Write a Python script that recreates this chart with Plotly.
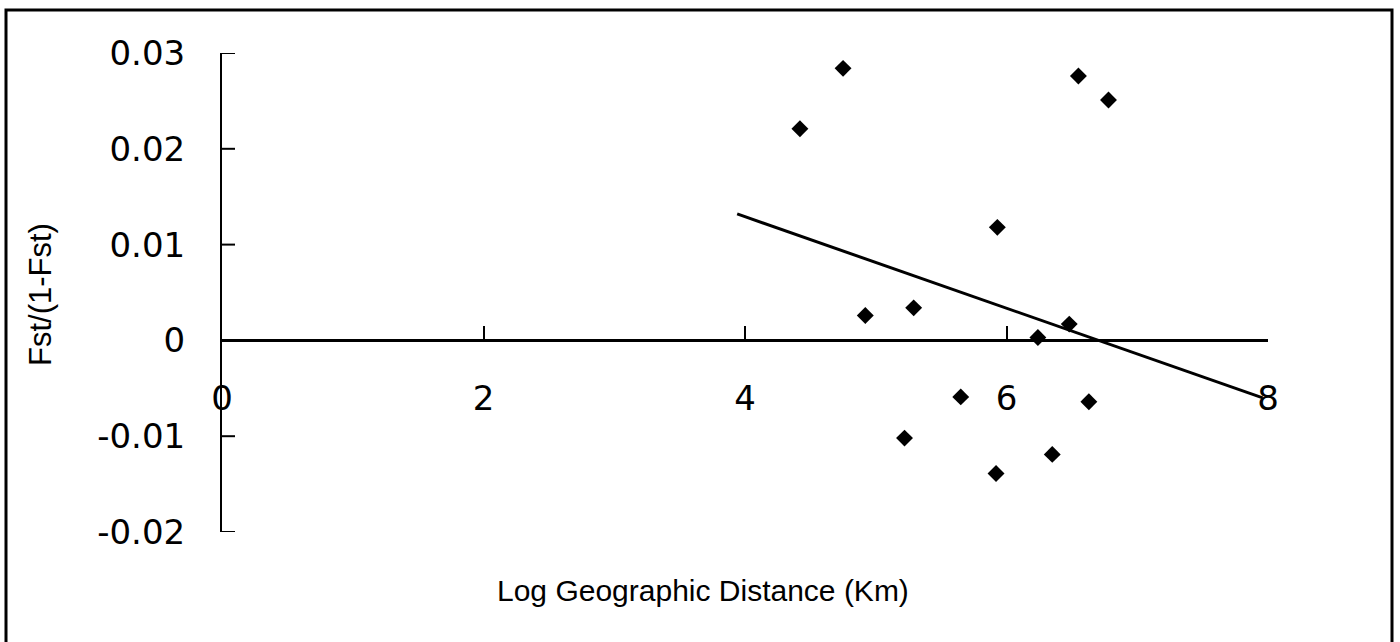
import plotly.graph_objects as go

# Data
log_distance = [4.42, 4.75, 4.92, 5.29, 5.22, 5.65, 5.93, 5.92, 6.24, 6.35,
                6.48, 6.55, 6.63, 6.78, 6.69]
fst_ratio = [0.0221, 0.0284, 0.0026, 0.0034, -0.0102, -0.0059, 0.0118, -0.0139,
             0.0003, -0.0119, 0.0017, 0.0276, -0.0064, 0.0251, -0.0203]

trend_x = [3.94, 7.96]
trend_y = [0.0132, -0.0060]

x_ticks = [0, 2, 4, 6, 8]
y_ticks = [0.03, 0.02, 0.01, 0, -0.01, -0.02]
y_tick_text = ["0.03", "0.02", "0.01", "0", "-0.01", "-0.02"]

x_title = "Log Geographic Distance (Km)"
y_title = "Fst/(1-Fst)"

y_range = [-0.02, 0.03]

fig = go.Figure()
fig.add_trace(go.Scatter(
    x=trend_x, y=trend_y, mode="lines",
    line=dict(color="black", width=3), cliponaxis=False, showlegend=False,
))
fig.add_trace(go.Scatter(
    x=log_distance, y=fst_ratio, mode="markers",
    marker=dict(symbol="diamond", size=13, color="black"),
    cliponaxis=False, showlegend=False,
))

L, R, T, B = 222, 132, 53, 110
W, H = 1400, 642
pw, ph = W - L - R, H - T - B

def px_to_paper_x(px):
    return (px - L) / pw

def px_to_paper_y(py):
    return (H - B - py) / ph

tick_font = dict(family="DejaVu Sans", size=34, color="black")

# y-axis tick marks pointing into the plot (right of the axis line)
y_tick_marks = [
    dict(type="line", xref="x", yref="y", xsizemode="pixel", xanchor=0,
         x0=0, x1=13, y0=v, y1=v, line=dict(color="black", width=2))
    for v in y_ticks
]

fig.update_layout(
    width=W, height=H,
    margin=dict(l=L, r=R, t=T, b=B),
    paper_bgcolor="white", plot_bgcolor="rgba(0,0,0,0)",
    xaxis=dict(
        range=[0, 8], tickvals=x_ticks, ticktext=[str(v) for v in x_ticks],
        showgrid=False, zeroline=False,
        showline=True, linecolor="black", linewidth=3,
        ticks="inside", ticklen=13, tickwidth=2, tickcolor="black",
        anchor="free", position=0.4, side="bottom",
        ticklabelstandoff=27, tickfont=tick_font,
    ),
    yaxis=dict(
        range=y_range, tickvals=y_ticks, ticktext=y_tick_text,
        showgrid=False, zeroline=False,
        showline=True, linecolor="black", linewidth=2,
        ticks="", ticklabelstandoff=28, tickfont=tick_font,
    ),
    annotations=[
        dict(text=x_title, xref="paper", yref="paper",
             x=px_to_paper_x(703), y=px_to_paper_y(590),
             xanchor="center", yanchor="middle", showarrow=False,
             font=dict(family="Liberation Sans", size=30, color="black")),
        dict(text=y_title, xref="paper", yref="paper",
             x=px_to_paper_x(40), y=px_to_paper_y(295), textangle=-90,
             xanchor="center", yanchor="middle", showarrow=False,
             font=dict(family="Liberation Sans", size=31, color="black")),
    ],
    shapes=[
        dict(type="rect", xref="paper", yref="paper",
             x0=px_to_paper_x(6), x1=px_to_paper_x(1392),
             y0=px_to_paper_y(660), y1=px_to_paper_y(10),
             line=dict(color="black", width=3), fillcolor="rgba(0,0,0,0)",
             layer="below"),
    ] + y_tick_marks,
)

fig.write_html("out.html")
